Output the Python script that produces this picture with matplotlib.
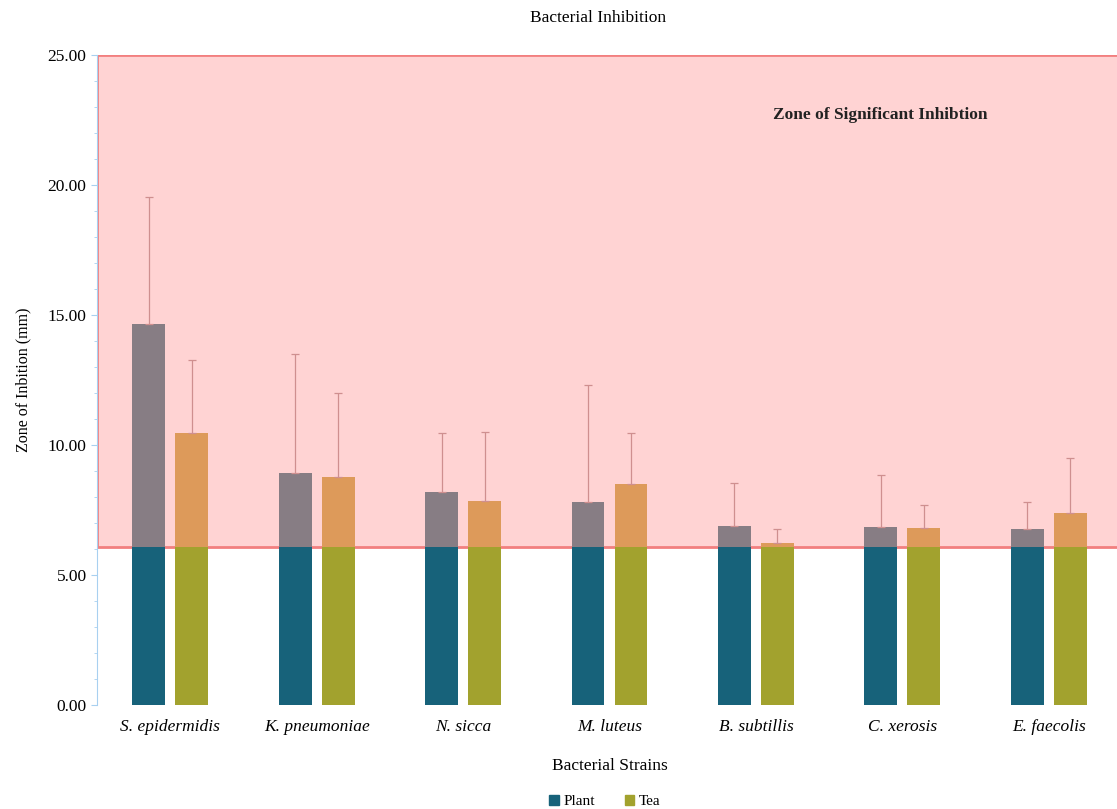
import numpy as np
import matplotlib.pyplot as plt
from matplotlib.patches import Rectangle, Patch

strains = ["S. epidermidis", "K. pneumoniae", "N. sicca", "M. luteus",
           "B. subtillis", "C. xerosis", "E. faecolis"]
plant = [14.65, 8.92, 8.19, 7.81, 6.88, 6.85, 6.77]
plant_err = [4.89, 4.58, 2.27, 4.49, 1.66, 2.00, 1.05]
tea = [10.46, 8.77, 7.85, 8.50, 6.23, 6.81, 7.38]
tea_err = [2.80, 3.23, 2.65, 1.96, 0.54, 0.90, 2.12]
significance = 6.07

serif = "Liberation Serif"

fig = plt.figure(figsize=(11.17, 8.09), dpi=100)
ax = fig.add_axes([97 / 1117, 104 / 809, 1025 / 1117, 650 / 809])

x = np.arange(len(strains))
w = 0.225
off = 0.147

# pink "zone" box behind the bars
ax.add_patch(Rectangle((-0.5, significance), len(strains), 25 - significance,
                       facecolor="#ffd3d3", edgecolor="#f27f7f", lw=2, zorder=1))

plant = np.array(plant)
tea = np.array(tea)
ax.bar(x - off, np.minimum(plant, significance), w, color="#17627a", zorder=2)
ax.bar(x - off, plant - significance, w, bottom=significance, color="#877d84", zorder=2)
ax.bar(x + off, np.minimum(tea, significance), w, color="#a2a22e", zorder=2)
ax.bar(x + off, tea - significance, w, bottom=significance, color="#dd9a5a", zorder=2)

# only the plus side of the error bars shows
zeros = np.zeros(len(strains))
ax.errorbar(x - off, plant, yerr=[zeros, plant_err], fmt="none", ecolor="#cf8f8f",
            elinewidth=0.9, capsize=3, capthick=0.9, zorder=3)
ax.errorbar(x + off, tea, yerr=[zeros, tea_err], fmt="none", ecolor="#cf8f8f",
            elinewidth=0.9, capsize=3, capthick=0.9, zorder=3)

ax.text(4.85, 22.7, "Zone of Significant Inhibtion", ha="center", va="center",
        fontsize=12.5, fontweight="bold", family=serif, color="#222222", zorder=4)

ax.set_xlim(-0.5, len(strains) - 0.5)
ax.set_ylim(0, 25)
ax.set_yticks(np.arange(0, 26, 5))
ax.set_yticklabels(["{0:.2f}".format(v) for v in np.arange(0, 26, 5)],
                   family=serif, fontsize=12.5)
ax.set_yticks(np.arange(0, 26, 1), minor=True)
ax.set_xticks(x)
ax.set_xticklabels(strains, family=serif, style="italic", fontsize=12.5)
ax.tick_params(axis="x", length=0, pad=10)
ax.tick_params(axis="y", which="both", color="#a8d0f0", length=4)
ax.tick_params(axis="y", which="minor", length=2)

for s in ["top", "right", "bottom"]:
    ax.spines[s].set_visible(False)
ax.spines["left"].set_color("#a8d0f0")

ax.set_xlabel("Bacterial Strains", family=serif, fontsize=12.5, labelpad=17)
ax.set_ylabel("Zone of Inbition (mm)", family=serif, fontsize=11.5, labelpad=12)
fig.text(598 / 1117, 1 - 18 / 809, "Bacterial Inhibition", ha="center", va="center",
         family=serif, fontsize=12.5)

handles = [Patch(color="#17627a"), Patch(color="#a2a22e")]
fig.legend(handles, ["Plant", "Tea"], loc="lower center", bbox_to_anchor=(605 / 1117, -0.016),
           ncol=2, frameon=False, prop={"family": serif, "size": 11},
           handlelength=0.6, handleheight=0.6, handletextpad=0.3, columnspacing=2.0)

fig.savefig("out.png", dpi=100)
